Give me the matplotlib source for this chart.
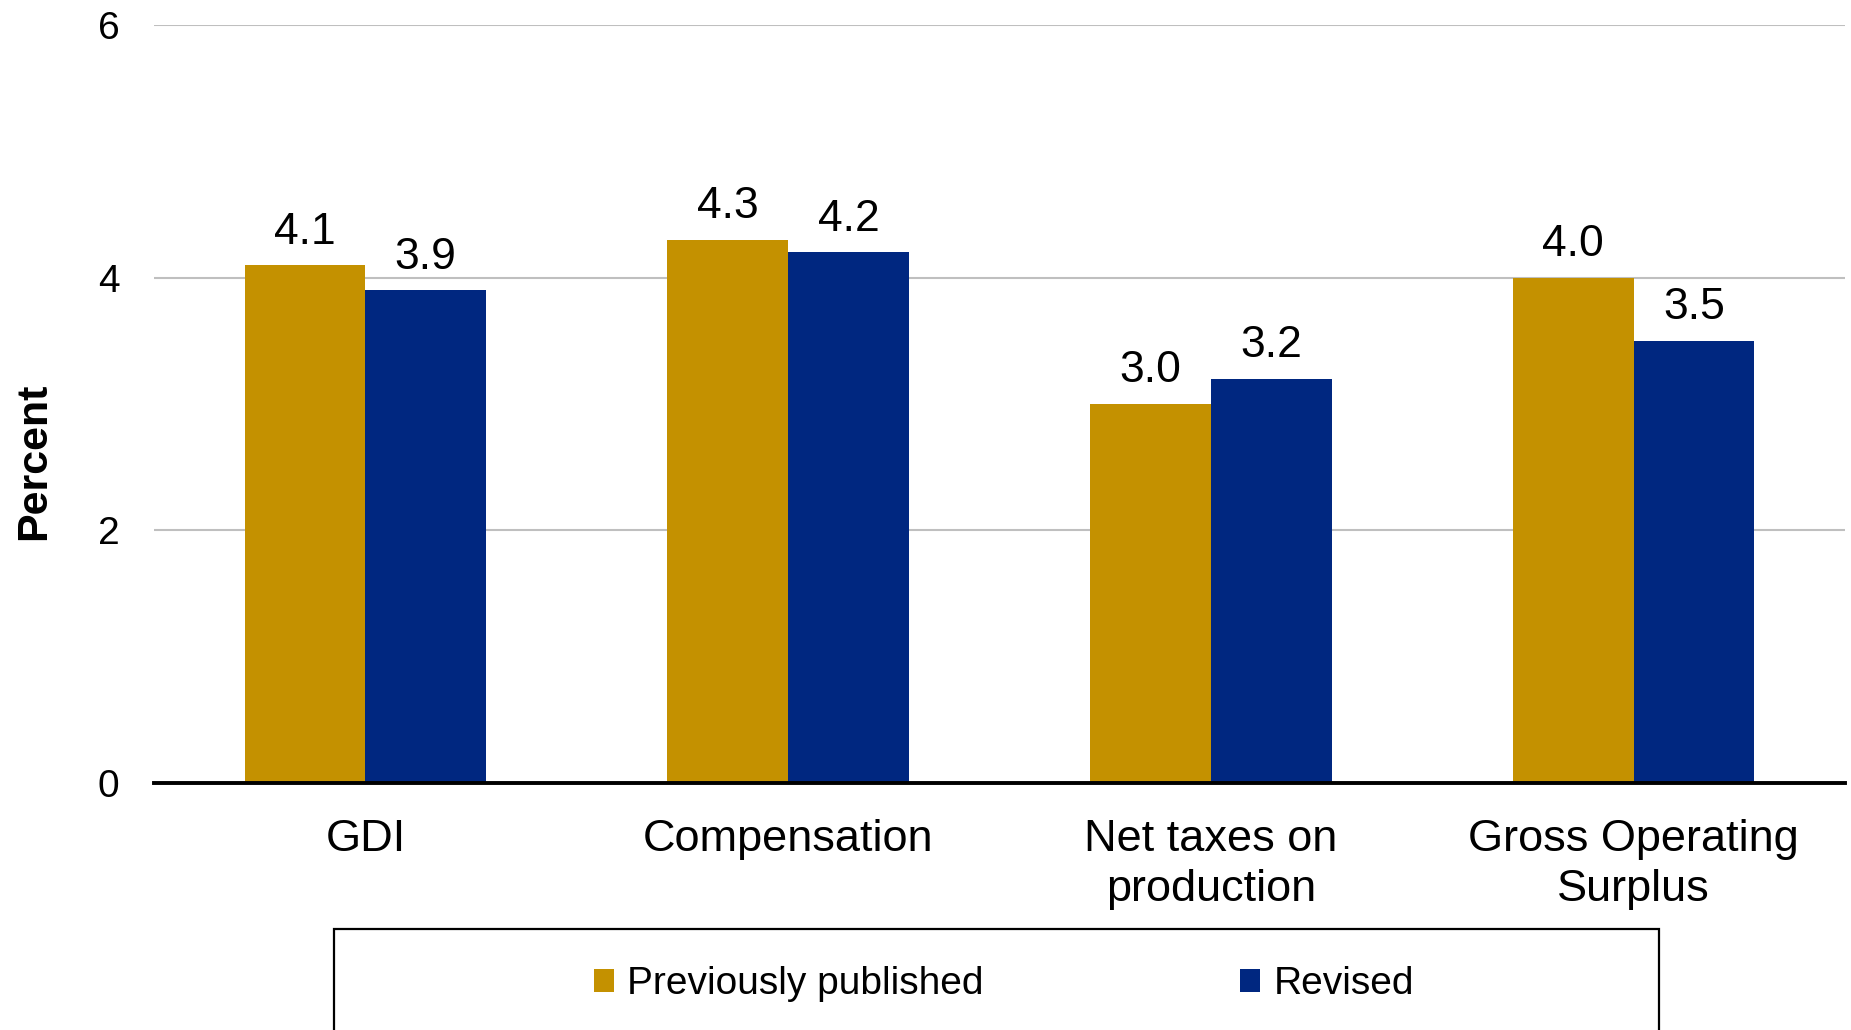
import matplotlib
matplotlib.use("Agg")
import matplotlib.pyplot as plt
from matplotlib.patches import Rectangle, Patch
import numpy as np

plt.rcParams['font.family'] = ['Liberation Sans', 'DejaVu Sans']

categories = ["GDI", "Compensation", "Net taxes on\nproduction", "Gross Operating\nSurplus"]
previously_published = [4.1, 4.3, 3.0, 4.0]
revised = [3.9, 4.2, 3.2, 3.5]
series_names = ["Previously published", "Revised"]
yticks = [0, 2, 4, 6]

gold = "#C49100"
navy = "#002780"

W, H = 1851, 1030
fig = plt.figure(figsize=(W / 100, H / 100), dpi=100)
ax = fig.add_axes([154 / W, 1 - 783 / H, (1845 - 154) / W, (783 - 25) / H])

x = np.arange(len(categories))
width = 1 / 3.5
b1 = ax.bar(x - width / 2, previously_published, width, color=gold, zorder=3)
b2 = ax.bar(x + width / 2, revised, width, color=navy, zorder=3)

for bars, vals in ((b1, previously_published), (b2, revised)):
    for rect, v in zip(bars, vals):
        ax.annotate(f"{v:.1f}", (rect.get_x() + rect.get_width() / 2, v),
                    xytext=(0, 9), textcoords="offset points",
                    ha="center", va="bottom", fontsize=32)

ax.set_xlim(-0.5, len(categories) - 0.5)
ax.set_ylim(0, 6)
ax.set_yticks(yticks)
ax.set_yticklabels([str(t) for t in yticks], fontsize=28)
ax.set_xticks(x)
ax.set_xticklabels(categories, fontsize=32.5, linespacing=1.27)
ax.tick_params(axis="y", length=0, pad=25)
ax.tick_params(axis="x", length=0, pad=26)

ax.yaxis.grid(True, color="#BFBFBF", linewidth=1.5, zorder=0)
ax.set_axisbelow(True)
for s in ("top", "right", "left"):
    ax.spines[s].set_visible(False)
ax.spines["bottom"].set_linewidth(2.8)
ax.spines["bottom"].set_color("black")
ax.spines["bottom"].set_zorder(4)

fig.text(34 / W, 1 - 461 / H, "Percent", rotation=90, fontsize=31,
         fontweight="bold", ha="center", va="center")

# legend box, running off the bottom edge
fig.patches.append(Rectangle((334 / W, -0.05), (1659 - 334) / W, (1 - 929 / H) + 0.05,
                             transform=fig.transFigure, fill=False,
                             edgecolor="black", linewidth=1.6))
handles = [Patch(facecolor=gold), Patch(facecolor=navy)]
fig.legend(handles, series_names, loc="center left",
           bbox_to_anchor=(594 / W, 1 - 984 / H), ncol=2, frameon=False,
           fontsize=28, handlelength=0.52, handleheight=0.52,
           handletextpad=0.33, columnspacing=6.6, borderpad=0,
           borderaxespad=0)

fig.savefig("out.png", dpi=100)
